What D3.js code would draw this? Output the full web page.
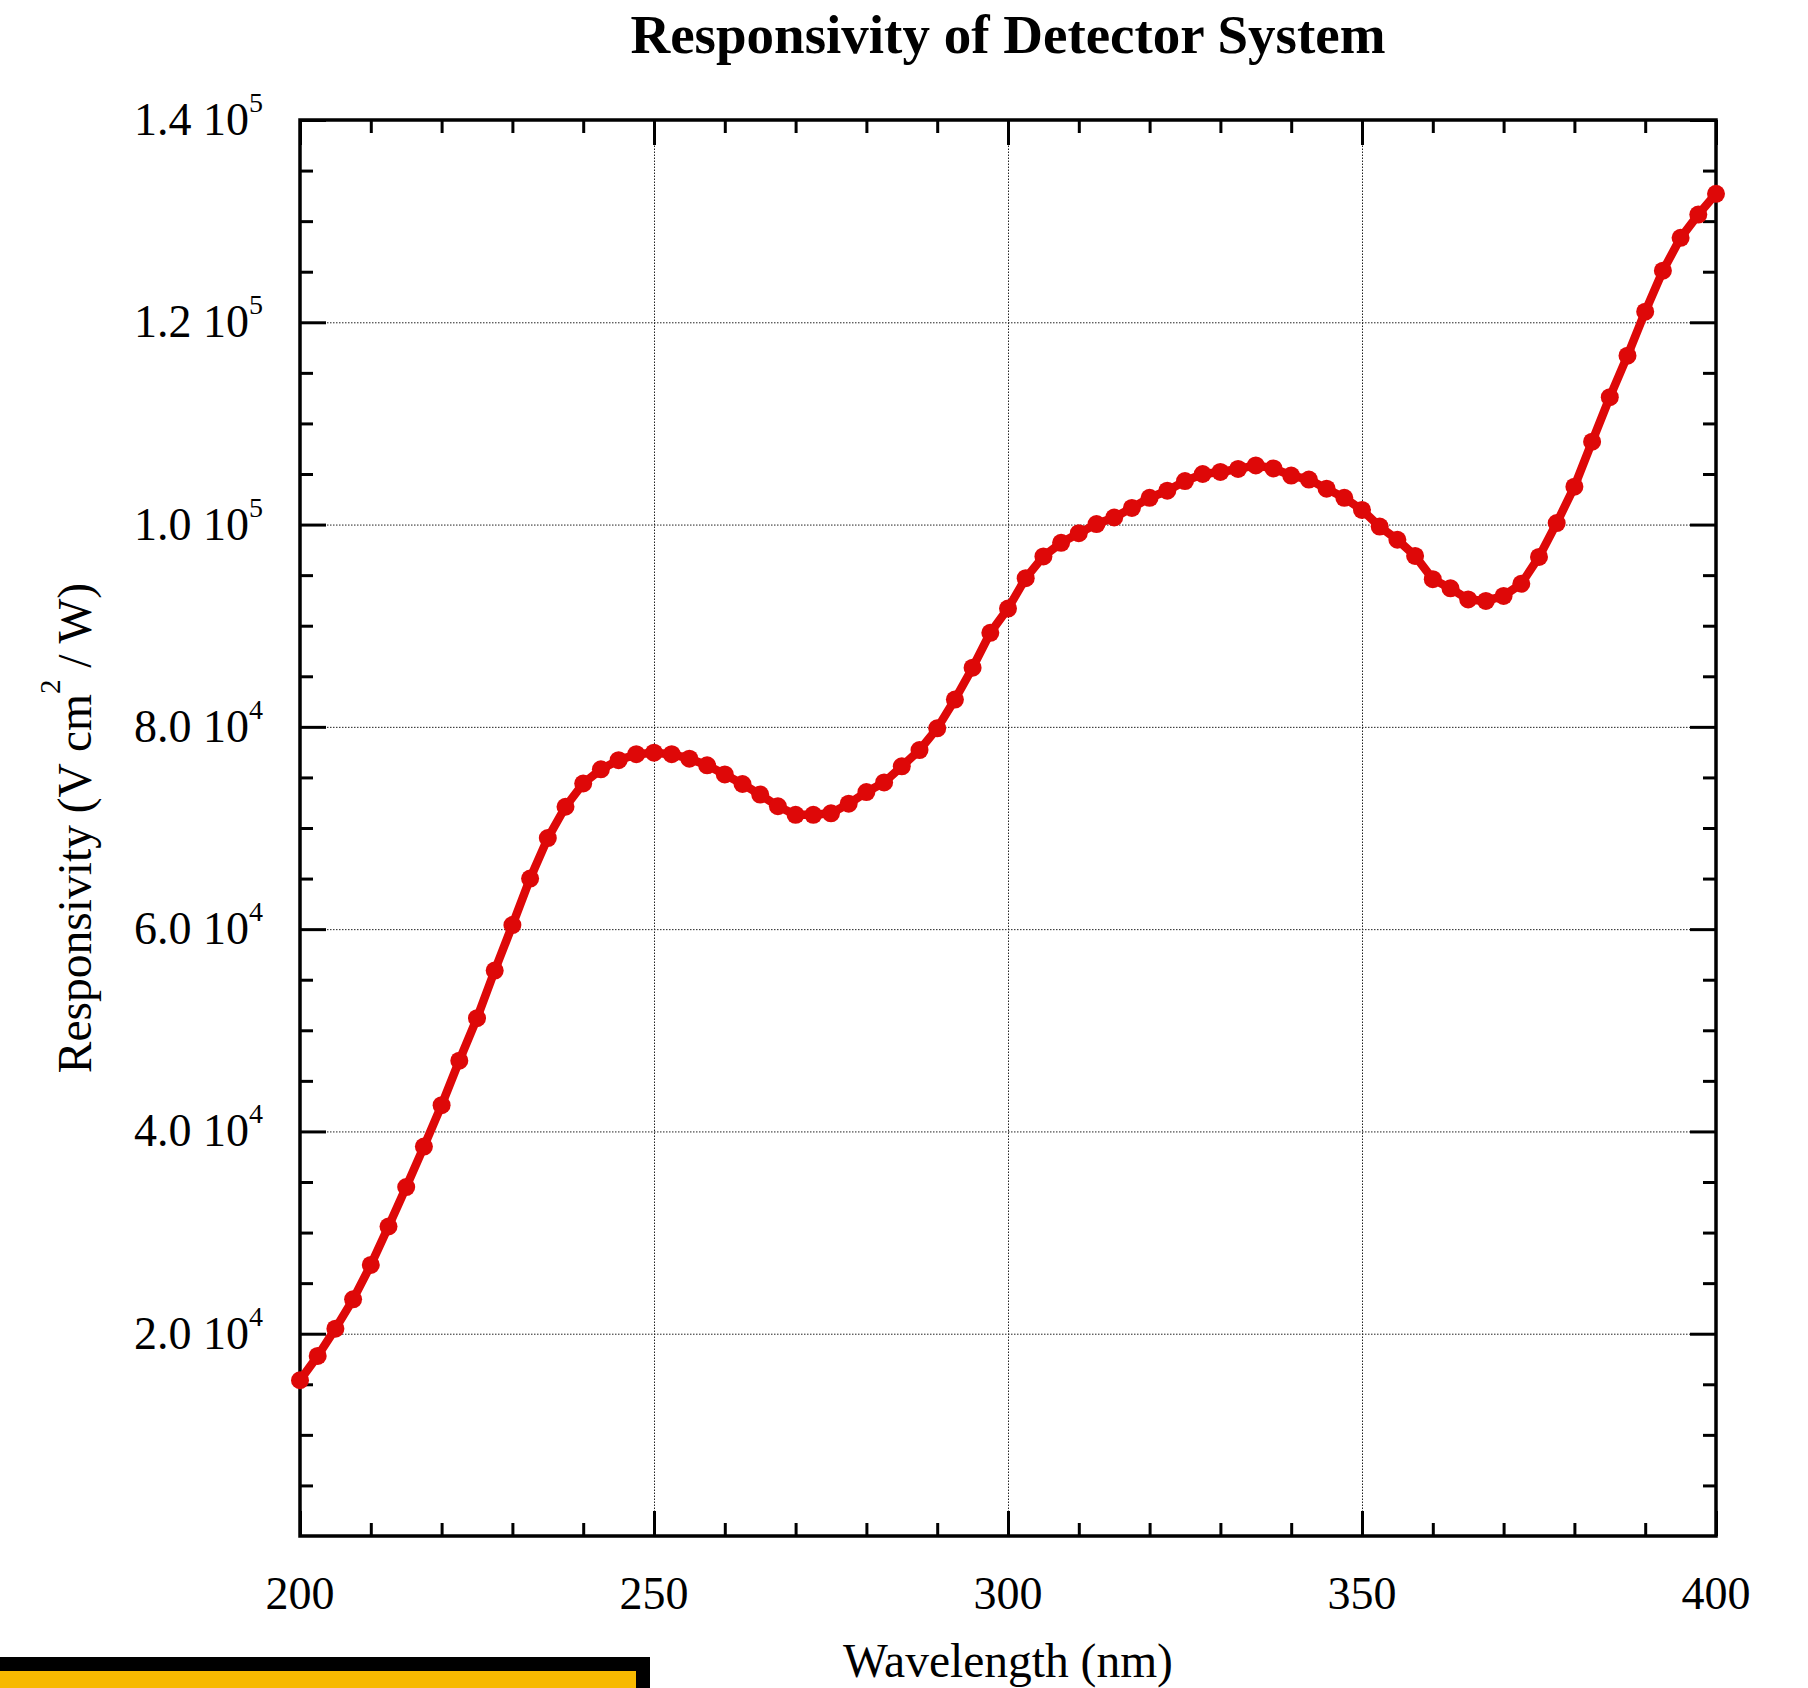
<!DOCTYPE html>
<html>
<head>
<meta charset="utf-8">
<script src="https://cdn.jsdelivr.net/npm/d3@7"></script>
<style>
  body { margin: 0; background: #fff; }
  svg { display: block; font-family: "Liberation Serif", "Times New Roman", serif; }
  .frame { fill: none; stroke: #000; stroke-width: 3.5; }
  .ticks line { stroke: #000; stroke-width: 3; }
  .ticks path { display: none; }
  .grid line { stroke: #222; stroke-width: 1; stroke-dasharray: 1.5,1.5; }
  .grid path { display: none; }
</style>
</head>
<body>
<div id="chart"></div>
<script>
const wavelengths = [
  200, 202.5, 205, 207.5, 210, 212.5, 215, 217.5, 220, 222.5,
  225, 227.5, 230, 232.5, 235, 237.5, 240, 242.5, 245, 247.5,
  250, 252.5, 255, 257.5, 260, 262.5, 265, 267.5, 270, 272.5,
  275, 277.5, 280, 282.5, 285, 287.5, 290, 292.5, 295, 297.5,
  300, 302.5, 305, 307.5, 310, 312.5, 315, 317.5, 320, 322.5,
  325, 327.5, 330, 332.5, 335, 337.5, 340, 342.5, 345, 347.5,
  350, 352.5, 355, 357.5, 360, 362.5, 365, 367.5, 370, 372.5,
  375, 377.5, 380, 382.5, 385, 387.5, 390, 392.5, 395, 397.5,
  400
];
const responsivity = [
  15400, 17800, 20500, 23400, 26800, 30600, 34500, 38500, 42600, 47000,
  51200, 55900, 60400, 65000, 69000, 72100, 74400, 75800, 76700, 77300,
  77450, 77300, 76850, 76200, 75300, 74350, 73300, 72150, 71300, 71300,
  71450, 72400, 73550, 74500, 76100, 77700, 79850, 82700, 85850, 89300,
  91700, 94700, 96850, 98200, 99150, 100050, 100700, 101650, 102650, 103350,
  104300, 105000, 105200, 105500, 105850, 105550, 104850, 104450, 103550, 102650,
  101450, 99800, 98500, 96900, 94600, 93700, 92600, 92450, 92950, 94150,
  96800, 100150, 103750, 108200, 112600, 116700, 121050, 125100, 128350, 130650,
  132700
];

const xMajor = [200, 250, 300, 350, 400];
const xMinor = [210, 220, 230, 240, 260, 270, 280, 290, 310, 320, 330, 340, 360, 370, 380, 390];
const yMajor = [20000, 40000, 60000, 80000, 100000, 120000, 140000];
const yMinor = [5000, 10000, 15000, 25000, 30000, 35000, 45000, 50000, 55000, 65000, 70000, 75000,
  85000, 90000, 95000, 105000, 110000, 115000, 125000, 130000, 135000];
const yMantissa = ["2.0", "4.0", "6.0", "8.0", "1.0", "1.2", "1.4"];
const yExponent = ["4", "4", "4", "4", "5", "5", "5"];

const width = 1808, height = 1688;
const margin = {top: 120, right: 92, bottom: 152, left: 300};
const w = width - margin.left - margin.right;
const h = height - margin.top - margin.bottom;

const x = d3.scaleLinear().domain([200, 400]).range([0, w]);
const y = d3.scaleLinear().domain([0, 140000]).range([h, 0]);

const svg = d3.select("#chart").append("svg")
  .attr("width", width)
  .attr("height", height);

const g = svg.append("g")
  .attr("transform", `translate(${margin.left},${margin.top})`);

// dotted grid at the major ticks
g.append("g").attr("class", "grid")
  .attr("transform", `translate(0,${h})`)
  .call(d3.axisBottom(x).tickValues([250, 300, 350]).tickSize(-h).tickFormat(""));
g.append("g").attr("class", "grid")
  .call(d3.axisLeft(y).tickValues(yMajor.slice(0, -1)).tickSize(-w).tickFormat(""));

// inward ticks on all four sides
const addTicks = (axis, transform) => {
  g.append("g").attr("class", "ticks").attr("transform", transform).call(axis);
};
addTicks(d3.axisBottom(x).tickValues(xMajor).tickSize(-25).tickSizeOuter(0).tickFormat(""), `translate(0,${h})`);
addTicks(d3.axisBottom(x).tickValues(xMinor).tickSize(-13).tickSizeOuter(0).tickFormat(""), `translate(0,${h})`);
addTicks(d3.axisTop(x).tickValues(xMajor).tickSize(-25).tickSizeOuter(0).tickFormat(""), "translate(0,0)");
addTicks(d3.axisTop(x).tickValues(xMinor).tickSize(-13).tickSizeOuter(0).tickFormat(""), "translate(0,0)");
addTicks(d3.axisLeft(y).tickValues(yMajor).tickSize(-26).tickSizeOuter(0).tickFormat(""), "translate(0,0)");
addTicks(d3.axisLeft(y).tickValues(yMinor).tickSize(-13).tickSizeOuter(0).tickFormat(""), "translate(0,0)");
addTicks(d3.axisRight(y).tickValues(yMajor).tickSize(-26).tickSizeOuter(0).tickFormat(""), `translate(${w},0)`);
addTicks(d3.axisRight(y).tickValues(yMinor).tickSize(-13).tickSizeOuter(0).tickFormat(""), `translate(${w},0)`);

g.append("rect").attr("class", "frame")
  .attr("width", w).attr("height", h);

// x tick labels
g.selectAll(".xlabel")
  .data(xMajor)
  .enter().append("text")
  .attr("x", d => x(d))
  .attr("y", h + 73)
  .attr("text-anchor", "middle")
  .style("font-size", "46px")
  .text(d => d);

// y tick labels with exponent
const yl = g.selectAll(".ylabel")
  .data(yMajor)
  .enter().append("text")
  .attr("x", -37)
  .attr("y", d => y(d) + 15)
  .attr("text-anchor", "end")
  .style("font-size", "46px");
yl.append("tspan").text((d, i) => yMantissa[i] + " 10");
yl.append("tspan")
  .attr("dy", -23)
  .style("font-size", "28px")
  .text((d, i) => yExponent[i]);

const line = d3.line()
  .x((d, i) => x(wavelengths[i]))
  .y(d => y(d));

g.append("path")
  .attr("d", line(responsivity))
  .attr("fill", "none")
  .attr("stroke", "#de0808")
  .attr("stroke-width", 8.5)
  .attr("stroke-linejoin", "round");

g.selectAll(".dot")
  .data(responsivity)
  .enter().append("circle")
  .attr("cx", (d, i) => x(wavelengths[i]))
  .attr("cy", d => y(d))
  .attr("r", 9)
  .attr("fill", "#de0808");

// titles
svg.append("text")
  .attr("x", margin.left + w / 2)
  .attr("y", 53)
  .attr("text-anchor", "middle")
  .style("font-size", "55px")
  .style("font-weight", "bold")
  .text("Responsivity of Detector System");

svg.append("text")
  .attr("x", margin.left + w / 2)
  .attr("y", 1677)
  .attr("text-anchor", "middle")
  .style("font-size", "47.5px")
  .text("Wavelength (nm)");

const ylab = svg.append("text")
  .attr("transform", `translate(91,${margin.top + h / 2}) rotate(-90)`)
  .attr("text-anchor", "middle")
  .style("font-size", "47.5px");
ylab.append("tspan").text("Responsivity (V cm");
ylab.append("tspan").attr("dy", -31).style("font-size", "29px").text("2");
ylab.append("tspan").attr("dy", 31).text(" / W)");

// yellow box at the bottom left
svg.append("rect")
  .attr("x", -20)
  .attr("y", 1664)
  .attr("width", 663)
  .attr("height", 60)
  .attr("fill", "#f7b900")
  .attr("stroke", "#000")
  .attr("stroke-width", 14);
</script>
</body>
</html>
